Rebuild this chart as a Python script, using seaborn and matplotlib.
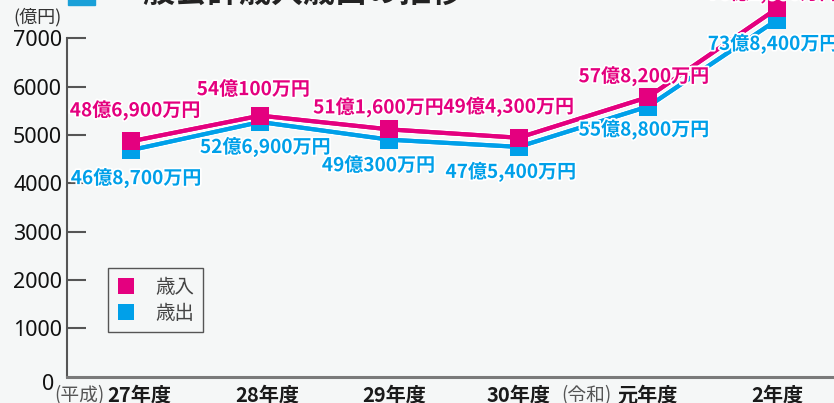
import numpy as np
import pandas as pd
import seaborn as sns
import matplotlib.pyplot as plt
import matplotlib.patheffects as pe
import matplotlib.transforms as mtransforms
from matplotlib.lines import Line2D
from matplotlib.patches import Rectangle

# data
years = ["27年度", "28年度", "29年度", "30年度", "元年度", "2年度"]
era_prefix = ["(平成)", "", "", "", "(令和)", ""]
revenue = [4869, 5401, 5116, 4943, 5782, 7620]
expenditure = [4687, 5269, 4903, 4754, 5588, 7384]
revenue_labels = ["48億6,900万円", "54億100万円", "51億1,600万円",
                  "49億4,300万円", "57億8,200万円", "76億2,000万円"]
expenditure_labels = ["46億8,700万円", "52億6,900万円", "49億300万円",
                      "47億5,400万円", "55億8,800万円", "73億8,400万円"]
yticks = [1000, 2000, 3000, 4000, 5000, 6000, 7000]

PINK = "#e4007f"
BLUE = "#00a0e9"
BG = "#f5f7f7"

sns.set_style("white")
plt.rcParams["font.family"] = ["Noto Sans CJK JP", "DejaVu Sans"]

df = pd.DataFrame({
    "x": list(range(len(years))) * 2,
    "value": expenditure + revenue,
    "kind": ["歳出"] * len(years) + ["歳入"] * len(years),
})
palette = {"歳入": PINK, "歳出": BLUE}

W, H = 834, 403
fig = plt.figure(figsize=(W / 100, H / 100), dpi=100, facecolor=BG)
ax_left, ax_bottom = 67, 376.5
ax = fig.add_axes([ax_left / W, (H - ax_bottom) / H, (W - ax_left) / W, ax_bottom / H])
ax.set_facecolor(BG)

# lines with a faint white halo, then square markers on top
halo = [pe.withStroke(linewidth=5, foreground="white"), pe.Normal()]
for kind in ["歳出", "歳入"]:
    sub = df[df["kind"] == kind]
    sns.lineplot(data=sub, x="x", y="value", color=palette[kind], linewidth=3,
                 legend=False, ax=ax, path_effects=halo, zorder=2)
    sns.scatterplot(data=sub, x="x", y="value", color=palette[kind], marker="s",
                    s=150, linewidth=0, legend=False, ax=ax, zorder=3)

px_per_unit = 129.2
ax.set_xlim(-(131 - ax_left) / px_per_unit, 5 + (W - 777) / px_per_unit)
ax.set_ylim(0, ax_bottom / 48.3 * 1000)

# value labels (offsets in pixels: dx, dy upward)
rev_off = [(4, 31), (-7, 26), (-11, 22), (-10, 31), (-4, 21), (-4, 15)]
exp_off = [(5, -28), (5, -25), (-11, -26), (-8, -25), (-4, -23), (-4, -24)]
txt_halo = [pe.withStroke(linewidth=2.5, foreground="white")]
for i in range(len(years)):
    for val, lab, off, col in ((revenue[i], revenue_labels[i], rev_off[i], PINK),
                               (expenditure[i], expenditure_labels[i], exp_off[i], BLUE)):
        ax.annotate(lab, (i, val), xytext=(off[0] * 0.72, off[1] * 0.72),
                    textcoords="offset points", ha="center", va="center",
                    fontsize=13.7, fontweight="bold", color=col,
                    path_effects=txt_halo, annotation_clip=False, zorder=4)

# axes styling
for s in ("top", "right"):
    ax.spines[s].set_visible(False)
ax.spines["left"].set_color("#555555")
ax.spines["left"].set_linewidth(1.5)
ax.spines["left"].set_bounds(0, 7000)
ax.spines["bottom"].set_color("#7a7a7a")
ax.spines["bottom"].set_linewidth(2.2)

ax.set_yticks(yticks)
ax.set_yticklabels([str(v) for v in yticks], family="Noto Sans")
ax.tick_params(axis="y", left=True, direction="in", length=13.5, width=1.5,
               color="#555555", labelsize=15.5, pad=3.5, labelcolor="#111111")
ax.set_xticks(range(len(years)))
ax.set_xticklabels(years, fontweight="bold")
ax.tick_params(axis="x", bottom=False, length=0, labelsize=14.5, pad=6,
               labelcolor="#1a1a1a")
label_shift = [8, 7, 5, 0, 0, 0]
for lbl, dx in zip(ax.get_xticklabels(), label_shift):
    lbl.set_transform(lbl.get_transform() +
                      mtransforms.ScaledTranslation(dx / 100, 0, fig.dpi_scale_trans))
ax.set_xlabel("")
ax.set_ylabel("")

ax.annotate("0", (0, 0), xycoords="axes fraction", xytext=(-19 * 0.72, -8 * 0.72),
            textcoords="offset points", ha="center", va="center",
            fontsize=15.5, family="Noto Sans", color="#111111", annotation_clip=False)

prefix_dx = [-26, 0, 0, 0, -36, 0]
for i, pre in enumerate(era_prefix):
    if pre:
        ax.annotate(pre, (i, 0), xycoords=("data", "axes fraction"),
                    xytext=(prefix_dx[i] * 0.72, -19.5 * 0.72), textcoords="offset points",
                    ha="right", va="center", fontsize=13.5, color="#555555",
                    annotation_clip=False)

fig.text(62 / W, (H - 17) / H, "(億円)", ha="right", va="center",
         fontsize=13, color="#333333")

# legend
handles = [Line2D([], [], ls="none", marker="s", markersize=11, markeredgewidth=0, color=PINK),
           Line2D([], [], ls="none", marker="s", markersize=11, markeredgewidth=0, color=BLUE)]
leg = ax.legend(handles, ["歳入", "歳出"], loc="upper left",
                bbox_to_anchor=((108 - ax_left) / (W - ax_left), (ax_bottom - 268) / ax_bottom),
                borderaxespad=0, fancybox=False, frameon=True, fontsize=14,
                handletextpad=1.0, labelspacing=0.25, borderpad=0.45, handlelength=1.0)
leg.get_frame().set_edgecolor("#555555")
leg.get_frame().set_facecolor(BG)
leg.get_frame().set_linewidth(1)
leg.get_frame().set_alpha(1)
for t in leg.get_texts():
    t.set_color("#444444")

# title (cut at the top edge in the reference)
fig.patches.append(Rectangle((68 / W, (H - 5) / H), 27 / W, 12 / H,
                             transform=fig.transFigure, color="#1aa0d8"))
fig.text(112 / W, (H - 2) / H, "一般会計歳入歳出の推移", ha="left", va="baseline",
         fontsize=23, fontweight="bold", color="#222222")

fig.savefig("out.png", dpi=100, facecolor=BG)
